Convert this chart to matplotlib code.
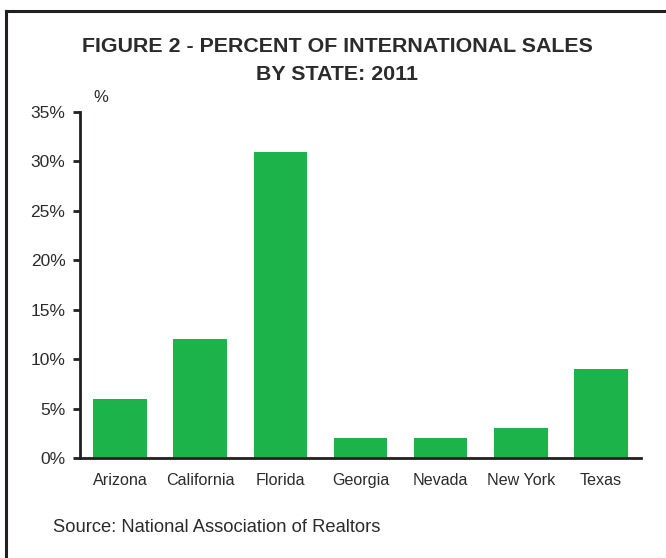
import matplotlib
matplotlib.use("Agg")
import matplotlib.pyplot as plt
from matplotlib.lines import Line2D

states = ["Arizona", "California", "Florida", "Georgia", "Nevada", "New York", "Texas"]
values = [6, 12, 31, 2, 2, 3, 9]
yticks = [0, 5, 10, 15, 20, 25, 30, 35]
ytick_labels = ["0%", "5%", "10%", "15%", "20%", "25%", "30%", "35%"]

plt.rcParams['font.family'] = ['Liberation Sans', 'DejaVu Sans']
text_color = "#2b2b2b"
bar_color = "#1db34b"

fig = plt.figure(figsize=(6.66, 5.58), dpi=100)
ax = fig.add_axes([80/666, 100/558, 561/666, 346/558])

x = list(range(len(states)))
ax.bar(x, values, width=0.67, color=bar_color, zorder=2)
ax.set_xlim(-0.5, len(states) - 0.5)
ax.set_ylim(0, 35)
ax.set_yticks(yticks)
ax.set_yticklabels(ytick_labels)
ax.set_xticks(x)
ax.set_xticklabels(states)

for s in ["top", "right"]:
    ax.spines[s].set_visible(False)
for s in ["left", "bottom"]:
    ax.spines[s].set_linewidth(2)
    ax.spines[s].set_color("#231f20")

ax.tick_params(axis="y", length=5, width=2, color="#231f20", labelsize=12.5,
               labelcolor=text_color, pad=5.5)
ax.tick_params(axis="x", length=0, labelsize=11.6, labelcolor=text_color, pad=11)

fig.text(337/666, 1 - 47/558, "FIGURE 2 - PERCENT OF INTERNATIONAL SALES",
         ha="center", va="center", fontsize=15.4, fontweight="bold", color=text_color)
fig.text(337/666, 1 - 75/558, "BY STATE: 2011",
         ha="center", va="center", fontsize=15.4, fontweight="bold", color=text_color)
fig.text(101/666, 1 - 98/558, "%", ha="center", va="center", fontsize=12, color=text_color)
fig.text(53/666, 1 - 527/558, "Source: National Association of Realtors",
         ha="left", va="center", fontsize=13.2, color=text_color)

# frame lines (top and left) in figure coordinates
fig.add_artist(Line2D([6/666, 1.0], [1 - 11/558, 1 - 11/558], transform=fig.transFigure,
                      color="#231f20", linewidth=2.2))
fig.add_artist(Line2D([6/666, 6/666], [0, 1 - 11/558], transform=fig.transFigure,
                      color="#231f20", linewidth=2.2))

fig.savefig("out.png", dpi=100)
